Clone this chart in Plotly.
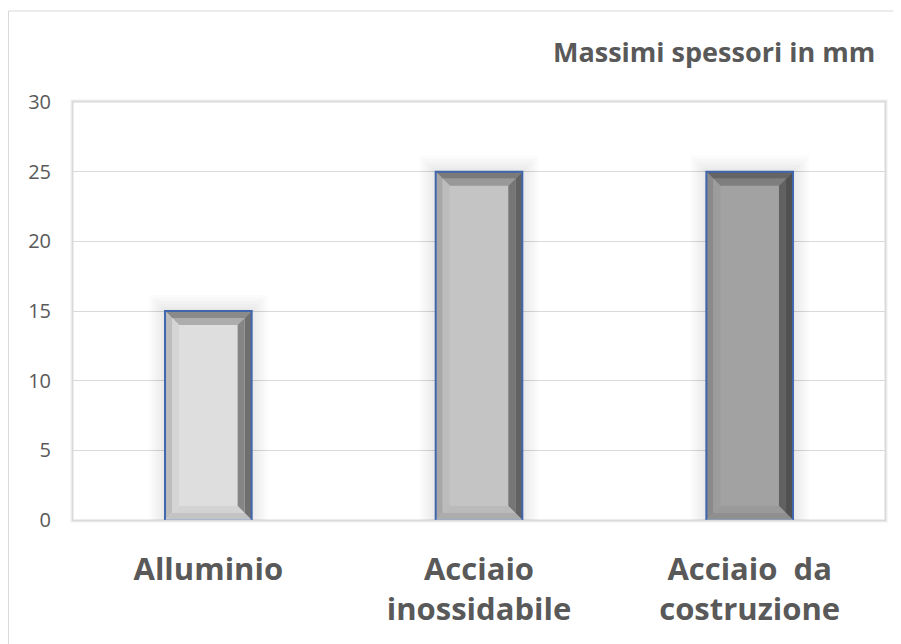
import plotly.graph_objects as go

categories = ["Alluminio", "Acciaio<br>inossidabile", "Acciaio  da<br>costruzione"]
values = [15, 25, 25]
y_ticks = [0, 5, 10, 15, 20, 25, 30]
title_text = "Massimi spessori in mm"

# style
face_grays = [222, 196, 162]
outline = "#3f66ad"
FONT = "Open Sans, Lato, sans-serif"

def gray(v):
    v = max(0, min(255, int(round(v))))
    return f"rgb({v},{v},{v})"

# page body has an 8px margin, so the figure is 8px smaller and shifted
OFF = 8
W, H = 901 - OFF, 644 - OFF
ML, MR, MT, MB = 73 - OFF, 16, 102 - OFF, 124
pw, ph = W - ML - MR, H - MT - MB
xr = (-0.5, 2.5)
yr = (0, 30)
bar_w = 0.32
px_x = pw / (xr[1] - xr[0])
px_y = ph / (yr[1] - yr[0])
BEV = 14

xs = list(range(len(categories)))

fig = go.Figure()
fig.add_trace(go.Bar(x=xs, y=values, width=bar_w,
                     marker=dict(color=[gray(g) for g in face_grays], line=dict(width=0)),
                     hovertemplate="%{y}<extra></extra>"))

shapes = []
# soft glow behind bars
for i, v in enumerate(values):
    x0, x1 = i - bar_w / 2, i + bar_w / 2
    for k in [16, 13, 10, 7, 4, 2]:
        shapes.append(dict(type="rect", xref="x", yref="y", layer="between",
                           x0=x0 - k / px_x, x1=x1 + k / px_x, y0=0, y1=v + k / px_y,
                           fillcolor="rgba(0,0,0,0.016)", line=dict(width=0)))

def poly(pts):
    return "M " + " L ".join(f"{a},{b}" for a, b in pts) + " Z"

def frame_pieces(x0, x1, y0, y1, a, b):
    """trapezoids of a bevel band between insets a and b (pixels)."""
    ax, bx = a / px_x, b / px_x
    ay, by = a / px_y, b / px_y
    top = [(x0 + ax, y1 - ay), (x1 - ax, y1 - ay), (x1 - bx, y1 - by), (x0 + bx, y1 - by)]
    left = [(x0 + ax, y0 + ay), (x0 + ax, y1 - ay), (x0 + bx, y1 - by), (x0 + bx, y0 + by)]
    right = [(x1 - ax, y0 + ay), (x1 - ax, y1 - ay), (x1 - bx, y1 - by), (x1 - bx, y0 + by)]
    bottom = [(x0 + ax, y0 + ay), (x1 - ax, y0 + ay), (x1 - bx, y0 + by), (x0 + bx, y0 + by)]
    return top, left, right, bottom

factors = [  # (top, left, right, bottom) for outer band then inner band
    (0.62, 0.85, 0.50, 0.88),
    (0.78, 0.96, 0.60, 0.95),
]

for i, v in enumerate(values):
    x0, x1 = i - bar_w / 2, i + bar_w / 2
    f = face_grays[i]
    for band, (a, b) in enumerate([(0, BEV / 2), (BEV / 2, BEV)]):
        pieces = frame_pieces(x0, x1, 0, v, a, b)
        for pts, fac in zip(pieces, factors[band]):
            shapes.append(dict(type="path", xref="x", yref="y", layer="above", path=poly(pts),
                               fillcolor=gray(f * fac), line=dict(width=0)))
    shapes.append(dict(type="path", xref="x", yref="y", layer="above",
                       path=f"M {x0},0 L {x0},{v} L {x1},{v} L {x1},0",
                       line=dict(color=outline, width=2)))
    shapes.append(dict(type="line", xref="x", yref="y", layer="above",
                       x0=x0, x1=x1, y0=0, y1=0, line=dict(color="#8fa8d6", width=1)))

# plot area frame with soft shadow
for k, a in [(3, 0.03), (2, 0.05), (1, 0.07)]:
    shapes.append(dict(type="rect", xref="paper", yref="paper", layer="below",
                       x0=-k / pw, x1=1 + k / pw, y0=-k / ph, y1=1 + k / ph,
                       fillcolor=f"rgba(0,0,0,{a})", line=dict(width=0)))
shapes.append(dict(type="rect", xref="paper", yref="paper", layer="below",
                   x0=0, x1=1, y0=0, y1=1, fillcolor="white", line=dict(color="#dadada", width=1)))
# outer chart frame
shapes.append(dict(type="rect", xref="paper", yref="paper", layer="below",
                   x0=(0.5 - ML) / pw, x1=(W + 5 - ML) / pw,
                   y0=-(H + 5 - MT - ph) / ph, y1=1 + (MT - 3) / ph,
                   line=dict(color="#d9d9d9", width=1)))

fig.update_layout(
    width=W, height=H,
    margin=dict(l=ML, r=MR, t=MT, b=MB),
    paper_bgcolor="white", plot_bgcolor="rgba(0,0,0,0)",
    showlegend=False,
    shapes=shapes,
    font=dict(family=FONT, color="#595959"),
    annotations=[dict(text=f"<b>{title_text}</b>", xref="paper", yref="paper",
                      x=1 + (877 - 885) / pw, y=1 + (102 - 51) / ph, xanchor="right", yanchor="middle",
                      showarrow=False, font=dict(size=27, color="#595959", family=FONT))],
    xaxis=dict(range=list(xr), tickvals=xs, ticktext=[f"<b>{c}</b>" for c in categories],
               showgrid=False, zeroline=False, showline=False, ticks="",
               tickfont=dict(size=31, color="#595959", family=FONT), ticklabelstandoff=28, fixedrange=True),
    yaxis=dict(range=list(yr), tickvals=y_ticks, showgrid=True, gridcolor="#d9d9d9", gridwidth=1,
               zeroline=False, showline=False, ticks="", tickfont=dict(size=20, color="#595959", family=FONT),
               ticklabelstandoff=21, fixedrange=True),
)

fig.write_html("out.html")
